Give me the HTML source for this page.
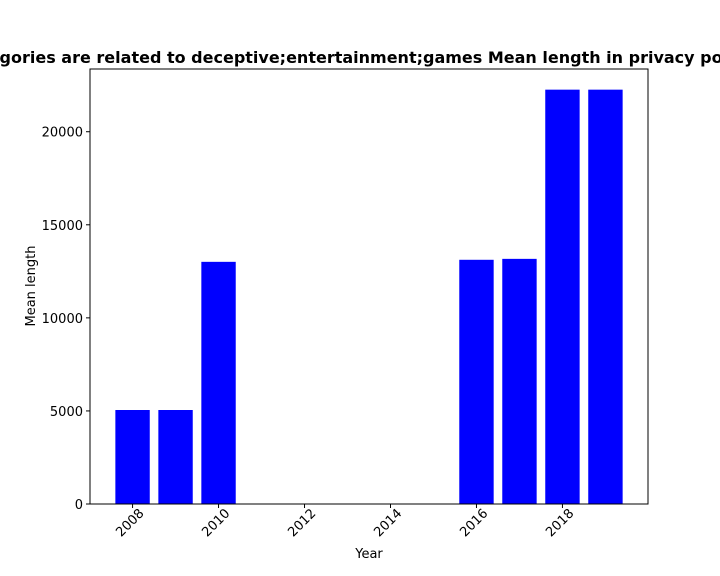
<!DOCTYPE html>
<html><head><meta charset="utf-8"><style>body{margin:0;background:#fff;overflow:hidden}svg{display:block;font-family:"DejaVu Sans","Liberation Sans",sans-serif}</style></head>
<body>
<svg id="chart" width="720" height="576" viewBox="0 0 720 576">
<text x="356" y="63" text-anchor="middle" font-size="16" font-weight="bold">Categories are related to deceptive;entertainment;games Mean length in privacy policy</text>
<g id="bars"></g>
<rect x="90" y="69" width="558" height="435" fill="none" stroke="#000" stroke-width="1"/>
<g id="axes" font-size="13"></g>
<text x="369" y="558" text-anchor="middle" font-size="13">Year</text>
<text transform="translate(35,286) rotate(-90)" text-anchor="middle" font-size="13">Mean length</text>
</svg>
<script>
const years=[2008,2009,2010,2016,2017,2018,2019];
const values=[5050,5050,13010,13120,13170,22260,22260];
const xTicks=[2008,2010,2012,2014,2016,2018];
const yTicks=[0,5000,10000,15000,20000];
const NS="http://www.w3.org/2000/svg";
const x0=90,x1=648,y0=504,y1=69,xmin=2007.01,xmax=2019.99,ymin=0,ymax=23370;
const sx=v=>x0+(v-xmin)/(xmax-xmin)*(x1-x0);
const sy=v=>y0-(v-ymin)/(ymax-ymin)*(y0-y1);
const bw=0.8*(sx(1)-sx(0));
const bars=document.getElementById('bars'),axes=document.getElementById('axes');
function mk(t,a,p){const e=document.createElementNS(NS,t);for(const k in a)e.setAttribute(k,a[k]);p.appendChild(e);return e;}
years.forEach((yr,i)=>{
 const r=mk('rect',{x:sx(yr)-bw/2,y:sy(values[i]),width:bw,height:sy(0)-sy(values[i]),fill:'#0000ff'},bars);
 
 
});
xTicks.forEach(t=>{
 const X=sx(t);
 const l=mk('line',{x1:X,x2:X,y1:504,y2:508,stroke:'#000'},axes);
 
 
 const tx=mk('text',{transform:`translate(${X+12},${514}) rotate(-45)`,'text-anchor':'end'},axes);
 tx.textContent=t;
 
 
});
yTicks.forEach(t=>{
 const Y=sy(t);
 const l=mk('line',{x1:86,x2:90,y1:Y,y2:Y,stroke:'#000'},axes);
 
 
 const tx=mk('text',{x:83,y:Y+5,'text-anchor':'end'},axes);
 tx.textContent=t;
 
 
});
</script>
</body></html>
